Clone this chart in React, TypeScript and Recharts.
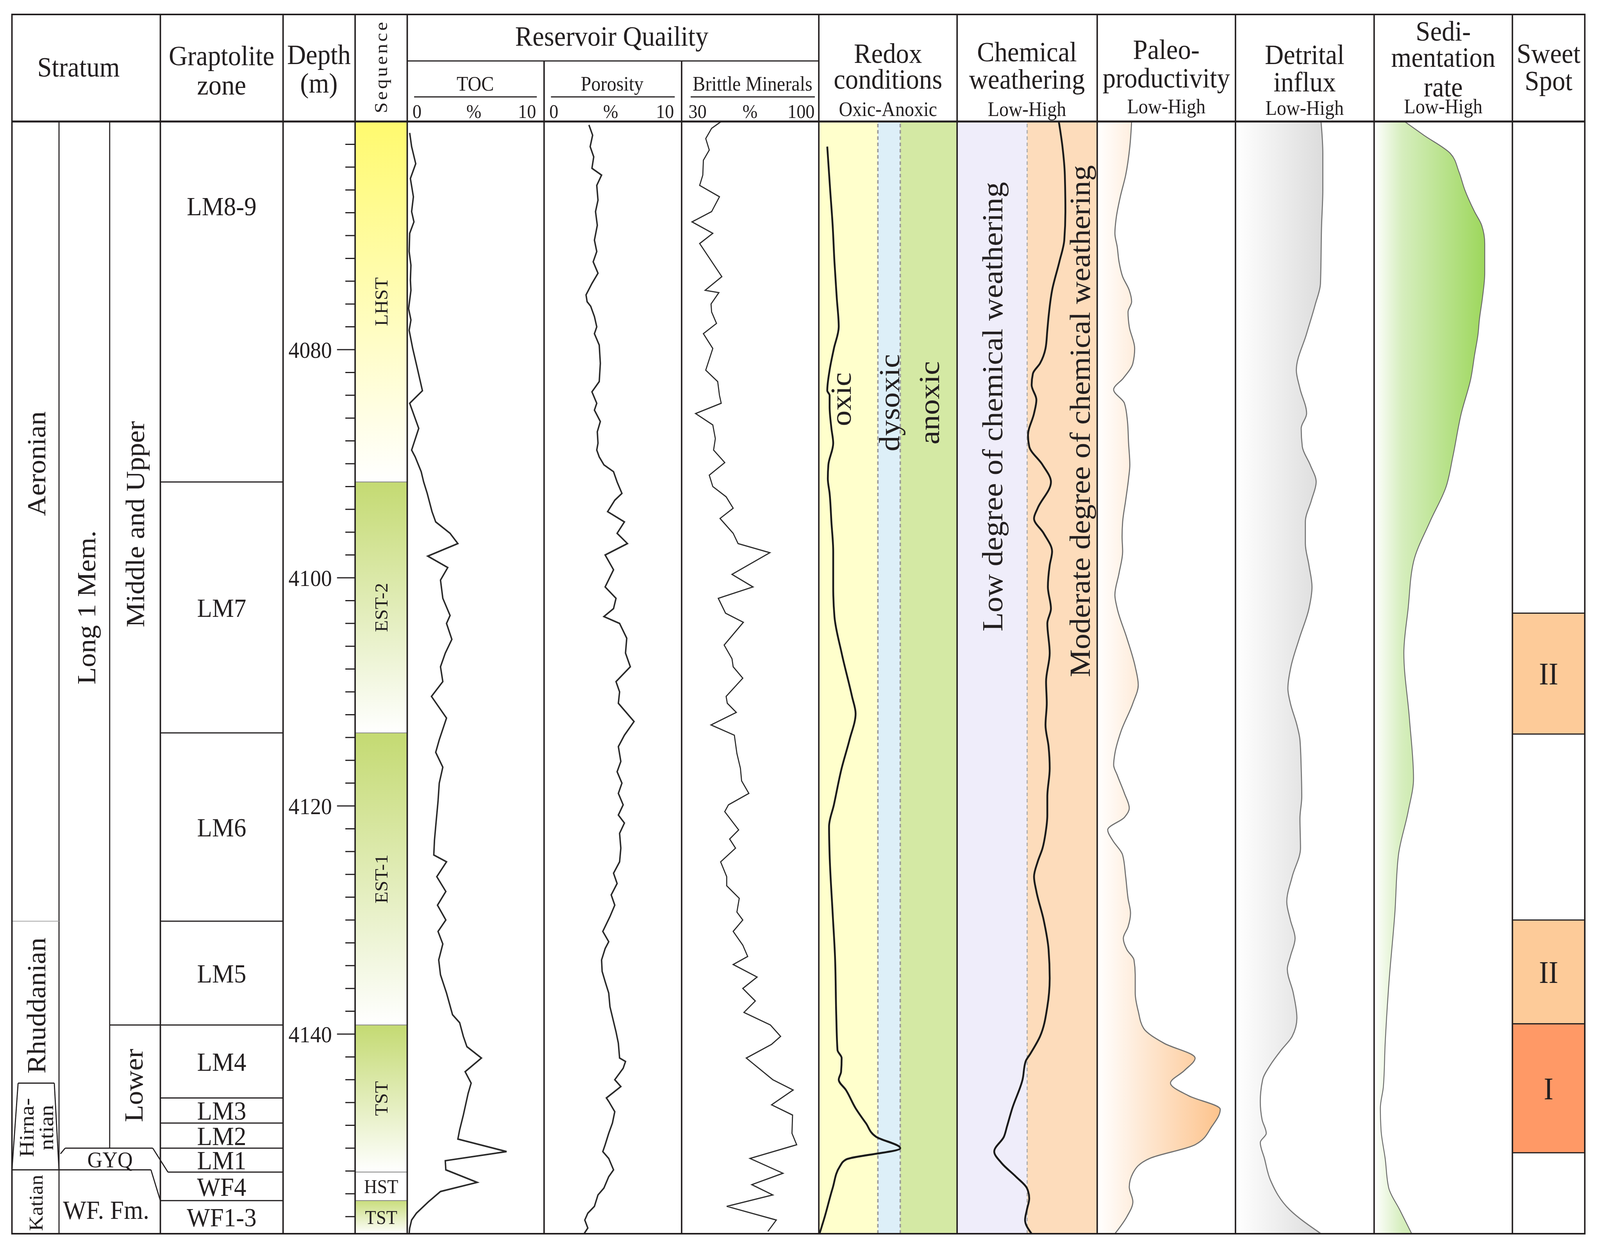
import React from 'react'
import { ComposedChart, Line, Area, XAxis, YAxis, ReferenceArea, ReferenceLine, ReferenceDot } from 'recharts'

const FONT = "'Liberation Serif', 'Times New Roman', serif"
const INK = '#231f20'

// depth window of the log (m)
const TOP = 4060
const BASE = 4157.5

const zones = ['LM8-9', 'LM7', 'LM6', 'LM5', 'LM4', 'LM3', 'LM2', 'LM1', 'WF4', 'WF1-3']
const zoneTops = [4060, 4091.6, 4113.6, 4130.1, 4139.2, 4145.6, 4147.8, 4150.0, 4152.1, 4154.6]

const sequences = ['LHST', 'EST-2', 'EST-1', 'TST', 'HST', 'TST']
const sequenceTops = [4060, 4091.6, 4113.6, 4139.2, 4152.1, 4154.6]
const sequenceColors = ['#fffa6e', '#c4da72', '#c4da72', '#c4da72', '#ffffff', '#c9dd7c']

// stratum boundaries (m)
const aeronianBase = 4130.1
const hirnantianTop = 4144.3
const katianTop = 4151.9
const lowerTop = 4139.2
const gyqTop = 4150.0

const sweetSpots = ['II', 'II', 'I']
const sweetTops = [4103.1, 4130.0, 4139.1]
const sweetBases = [4113.7, 4139.1, 4150.4]
const sweetColors = ['#fdcb99', '#fdcb99', '#ff9966']

const depthLabels = [4080, 4100, 4120, 4140]
const depthStep = 2

// redox / weathering class limits on the 0-10 track
const oxicLimit = 4.27
const dysoxicLimit = 5.89
const weatheringLimit = 5.0

// [depth m, value]
const tocData = [
  [4061.0, 0.18], [4062.2, 0.32], [4063.7, 0.62], [4065.0, 0.23], [4066.6, 0.45], [4067.9, 0.32], [4068.8, 0.49], [4069.8, 0.18],
  [4071.4, 0.14], [4072.6, 0.27], [4073.9, 0.23], [4074.8, 0.27], [4076.4, 0.10], [4077.4, 0.27], [4078.3, 0.14], [4079.9, 0.40],
  [4081.5, 0.71], [4083.6, 1.11], [4084.7, 0.18], [4086.9, 0.84], [4088.8, 0.32], [4089.4, 0.58], [4090.7, 1.02], [4091.6, 1.20],
  [4092.6, 1.46], [4094.2, 1.81], [4095.1, 2.08], [4096.1, 3.13], [4097.0, 3.70], [4098.1, 1.50], [4099.1, 2.96], [4100.2, 2.43],
  [4101.8, 2.60], [4103.3, 3.13], [4104.0, 2.87], [4105.4, 3.26], [4106.6, 2.78], [4107.8, 2.43], [4109.1, 2.60], [4110.4, 1.77],
  [4112.3, 2.87], [4114.2, 2.34], [4115.3, 2.08], [4116.6, 2.60], [4118.0, 2.34], [4119.6, 2.25], [4121.8, 2.08], [4123.0, 1.99],
  [4124.3, 1.94], [4124.9, 2.87], [4126.2, 2.16], [4127.5, 2.82], [4128.7, 2.21], [4130.0, 2.82], [4131.0, 2.25], [4132.1, 2.60],
  [4133.5, 2.30], [4134.8, 2.43], [4136.4, 2.87], [4138.3, 3.31], [4139.0, 3.83], [4140.2, 4.10], [4141.1, 4.36], [4142.1, 5.42],
  [4143.3, 4.23], [4144.3, 4.67], [4145.2, 4.45], [4147.1, 4.10], [4148.4, 3.83], [4149.2, 3.70], [4150.3, 7.26], [4151.1, 2.78],
  [4151.9, 2.82], [4153.0, 5.11], [4153.8, 2.43], [4154.7, 1.55], [4155.7, 0.67], [4156.3, 0.32], [4157.0, 0.18], [4157.5, 0.14],
]

const porosityData = [
  [4060.3, 3.26], [4061.2, 3.53], [4062.2, 3.35], [4063.1, 3.61], [4064.1, 3.48], [4064.7, 4.18], [4065.6, 3.83], [4066.9, 3.92],
  [4067.9, 3.74], [4069.1, 3.87], [4070.4, 3.66], [4071.4, 3.83], [4072.3, 3.57], [4073.3, 3.92], [4074.2, 3.48], [4075.2, 3.05],
  [4075.8, 3.13], [4076.2, 3.39], [4077.1, 3.66], [4078.0, 3.83], [4078.6, 3.66], [4079.6, 4.01], [4081.2, 4.09], [4082.8, 4.01],
  [4083.7, 3.48], [4084.7, 3.83], [4085.3, 3.66], [4086.3, 4.09], [4087.2, 3.87], [4088.2, 3.92], [4088.8, 3.83], [4089.4, 4.01],
  [4090.1, 4.35], [4090.7, 5.05], [4091.6, 5.31], [4092.6, 5.66], [4093.2, 5.14], [4094.2, 4.62], [4095.1, 5.84], [4096.1, 5.31],
  [4097.0, 6.06], [4098.0, 4.44], [4099.3, 5.05], [4100.8, 4.44], [4101.8, 5.23], [4102.7, 5.05], [4103.4, 4.35], [4104.0, 5.49],
  [4105.3, 6.01], [4106.6, 5.92], [4107.8, 6.27], [4109.1, 5.23], [4110.0, 5.49], [4111.0, 5.40], [4112.6, 6.54], [4113.8, 5.84],
  [4114.8, 5.40], [4116.1, 5.58], [4117.0, 5.31], [4118.0, 5.66], [4118.9, 5.40], [4119.9, 5.75], [4120.8, 5.40], [4121.5, 5.84],
  [4122.4, 5.49], [4123.7, 5.58], [4124.9, 5.49], [4125.9, 5.05], [4126.8, 5.31], [4127.8, 4.88], [4128.7, 5.14], [4129.7, 4.79],
  [4131.0, 4.27], [4131.9, 4.70], [4132.5, 4.44], [4133.5, 4.18], [4134.5, 4.22], [4135.4, 4.44], [4136.4, 4.70], [4137.6, 4.79],
  [4138.9, 5.05], [4139.8, 5.23], [4140.8, 5.40], [4142.1, 5.49], [4142.4, 5.92], [4143.0, 5.75], [4144.0, 5.14], [4144.6, 5.58],
  [4145.6, 4.53], [4145.9, 4.70], [4146.8, 5.14], [4147.8, 4.97], [4148.7, 4.70], [4149.7, 4.44], [4150.3, 4.27], [4150.9, 4.70],
  [4151.9, 5.05], [4152.5, 4.70], [4153.5, 4.35], [4154.1, 3.92], [4155.1, 3.66], [4155.7, 3.18], [4156.3, 2.96], [4157.0, 3.18],
  [4157.5, 2.91],
]

const brittleData = [
  [4060.0, 50.2], [4060.6, 45.3], [4061.5, 42.3], [4062.5, 44.1], [4063.4, 41.1], [4064.7, 40.8], [4065.6, 39.2], [4066.6, 49.3],
  [4067.9, 45.3], [4068.8, 35.3], [4069.8, 45.9], [4070.7, 39.2], [4073.6, 50.5], [4074.8, 42.0], [4075.0, 49.0], [4076.0, 45.0],
  [4076.7, 45.3], [4077.7, 47.8], [4078.6, 41.1], [4079.9, 45.9], [4081.8, 42.3], [4082.8, 48.4], [4084.0, 49.3], [4084.7, 50.2],
  [4085.6, 37.1], [4086.6, 45.9], [4087.8, 47.2], [4088.8, 46.3], [4089.9, 52.0], [4091.0, 44.1], [4092.0, 45.9], [4092.9, 52.7],
  [4093.9, 56.3], [4094.8, 49.6], [4096.1, 56.3], [4097.0, 58.8], [4097.8, 75.0], [4099.7, 55.7], [4100.8, 66.4], [4101.8, 48.7],
  [4103.1, 52.4], [4103.9, 61.5], [4105.9, 51.7], [4107.1, 55.7], [4107.8, 56.3], [4108.8, 61.2], [4110.4, 52.7], [4111.0, 53.3],
  [4111.8, 57.9], [4112.9, 45.0], [4113.8, 56.9], [4115.4, 58.2], [4116.7, 60.0], [4117.8, 60.6], [4118.9, 64.3], [4119.9, 53.9],
  [4120.5, 52.0], [4122.1, 59.1], [4122.9, 54.5], [4123.7, 57.5], [4124.9, 49.9], [4126.2, 53.0], [4127.0, 53.0], [4128.1, 59.4],
  [4129.3, 58.2], [4130.0, 61.2], [4131.0, 56.3], [4132.2, 61.2], [4133.2, 63.7], [4133.9, 56.3], [4135.0, 68.5], [4136.0, 61.2],
  [4137.1, 67.6], [4138.1, 61.8], [4139.2, 75.3], [4140.2, 80.5], [4140.9, 75.9], [4142.1, 63.0], [4144.0, 76.5], [4144.9, 86.9],
  [4146.2, 75.9], [4147.1, 86.6], [4148.7, 86.3], [4149.7, 88.7], [4150.9, 64.9], [4152.2, 81.7], [4153.2, 65.8], [4154.1, 76.5],
  [4155.1, 53.0], [4156.3, 78.3], [4157.3, 74.0],
]

const redoxData = [
  [4062.2, 0.61], [4066.0, 0.82], [4069.1, 1.00], [4072.3, 1.13], [4075.5, 1.30], [4078.0, 1.44], [4079.9, 1.09], [4081.8, 0.78],
  [4083.6, 0.61], [4084.0, 0.78], [4085.0, 0.78], [4086.9, 0.91], [4088.2, 1.04], [4090.1, 0.69], [4091.3, 0.65], [4092.6, 0.78],
  [4095.1, 0.91], [4097.7, 1.04], [4100.8, 1.04], [4103.4, 1.13], [4106.6, 1.65], [4110.4, 2.40], [4111.9, 2.66], [4114.2, 2.22],
  [4116.7, 1.65], [4119.9, 1.09], [4121.8, 0.74], [4124.3, 0.78], [4129.4, 1.00], [4133.2, 1.17], [4138.3, 1.26], [4141.4, 1.35],
  [4142.1, 1.65], [4143.3, 1.61], [4144.0, 1.44], [4144.9, 1.96], [4146.5, 2.66], [4147.8, 3.40], [4149.0, 4.14], [4150.0, 5.89],
  [4151.0, 1.96], [4151.6, 1.52], [4153.5, 1.00], [4156.0, 0.43], [4157.5, 0.05],
]

const weatheringData = [
  [4060.0, 7.26], [4062.2, 7.52], [4064.7, 7.69], [4067.9, 7.73], [4070.4, 7.65], [4072.3, 7.30], [4074.8, 6.78], [4077.1, 6.53],
  [4078.3, 6.44], [4079.9, 6.31], [4081.2, 5.92], [4082.1, 5.41], [4083.1, 5.32], [4084.4, 5.66], [4085.6, 5.49], [4087.5, 5.06],
  [4088.5, 5.15], [4090.1, 6.10], [4091.6, 6.70], [4093.9, 5.75], [4094.8, 5.49], [4096.1, 6.18], [4097.7, 6.78], [4098.9, 6.61],
  [4100.8, 6.48], [4102.7, 6.70], [4104.0, 6.44], [4106.6, 6.61], [4109.1, 6.35], [4111.0, 6.40], [4112.9, 6.31], [4114.8, 6.53],
  [4116.7, 6.61], [4119.2, 6.44], [4120.8, 6.44], [4122.4, 6.31], [4123.7, 6.10], [4124.9, 5.75], [4126.2, 5.49], [4127.5, 5.66],
  [4130.0, 6.18], [4132.6, 6.53], [4135.1, 6.61], [4137.6, 6.44], [4140.2, 5.92], [4141.7, 5.24], [4142.4, 4.89], [4144.0, 4.67],
  [4146.5, 3.94], [4148.1, 3.56], [4149.0, 3.34], [4150.3, 2.65], [4151.3, 3.17], [4152.5, 4.20], [4153.5, 4.98], [4154.4, 5.15],
  [4155.4, 4.98], [4156.3, 4.85], [4157.5, 5.32],
]

const productivityData = [
  [4060.0, 2.49], [4062.2, 2.36], [4064.7, 2.06], [4066.6, 1.67], [4068.5, 1.37], [4069.8, 1.28], [4071.0, 1.45], [4072.3, 1.58],
  [4073.6, 1.84], [4074.8, 2.32], [4075.8, 2.49], [4076.7, 2.23], [4078.0, 2.32], [4079.9, 2.71], [4081.2, 2.58], [4082.5, 1.89],
  [4083.5, 1.19], [4084.7, 1.97], [4086.3, 2.19], [4088.2, 2.27], [4090.1, 2.36], [4091.3, 2.27], [4093.2, 2.06], [4095.1, 1.84],
  [4096.4, 1.80], [4097.7, 1.84], [4099.6, 1.58], [4101.5, 1.28], [4102.7, 1.45], [4105.3, 2.15], [4107.8, 2.75], [4109.4, 2.97],
  [4111.0, 2.58], [4113.5, 1.71], [4115.4, 1.28], [4116.4, 1.19], [4117.3, 1.45], [4118.9, 1.97], [4120.2, 2.32], [4121.0, 1.97],
  [4122.1, 0.76], [4123.0, 1.11], [4124.3, 1.84], [4126.2, 2.06], [4128.1, 2.23], [4129.4, 2.41], [4130.6, 2.23], [4131.6, 1.89],
  [4132.6, 2.15], [4133.5, 2.66], [4134.8, 2.75], [4136.4, 2.75], [4138.0, 2.97], [4139.5, 3.36], [4140.8, 4.83], [4142.1, 7.08],
  [4143.2, 6.30], [4144.3, 5.30], [4145.4, 6.60], [4146.6, 8.90], [4148.1, 8.29], [4149.7, 7.08], [4150.9, 3.79], [4152.2, 2.58],
  [4153.4, 2.32], [4154.7, 2.58], [4156.0, 2.15], [4157.5, 1.28],
]

const detritalData = [
  [4060.0, 6.17], [4062.8, 6.30], [4066.0, 6.30], [4069.1, 6.21], [4074.2, 6.13], [4076.1, 5.74], [4078.6, 5.13], [4081.8, 4.39],
  [4083.4, 4.65], [4085.6, 5.13], [4086.9, 4.74], [4088.5, 4.82], [4090.1, 5.39], [4091.6, 5.82], [4093.2, 5.48], [4095.1, 5.04],
  [4097.0, 5.04], [4098.9, 5.30], [4100.8, 5.52], [4102.7, 5.30], [4105.3, 4.61], [4107.8, 4.00], [4109.7, 3.78], [4111.0, 3.96],
  [4112.9, 4.43], [4114.2, 4.65], [4116.7, 4.74], [4119.2, 4.78], [4121.1, 4.65], [4123.7, 4.69], [4126.2, 4.09], [4128.4, 3.70],
  [4130.0, 3.96], [4131.6, 4.30], [4133.2, 3.96], [4134.3, 3.74], [4136.4, 4.17], [4138.6, 4.43], [4140.2, 4.09], [4141.4, 3.30],
  [4142.7, 2.52], [4144.0, 1.96], [4145.9, 1.79], [4147.5, 1.92], [4148.7, 2.22], [4149.5, 1.79], [4150.9, 2.09], [4152.8, 2.52],
  [4155.4, 3.91], [4157.5, 6.17],
]

const sedimentationData = [
  [4060.0, 2.20], [4061.2, 3.59], [4062.8, 5.51], [4064.4, 6.13], [4066.0, 6.56], [4067.9, 7.26], [4069.1, 7.78], [4070.7, 8.00],
  [4073.3, 8.00], [4075.5, 7.83], [4077.4, 7.61], [4078.6, 7.52], [4080.5, 7.26], [4082.5, 7.00], [4085.6, 6.30], [4089.4, 5.69],
  [4092.0, 5.21], [4095.1, 4.03], [4098.6, 2.85], [4102.7, 2.46], [4106.6, 2.15], [4112.3, 2.55], [4117.6, 2.85], [4120.5, 2.46],
  [4124.3, 1.76], [4129.4, 1.50], [4135.7, 1.06], [4140.8, 0.80], [4144.6, 0.67], [4146.5, 0.45], [4148.4, 0.50], [4150.9, 0.80],
  [4153.5, 1.06], [4155.4, 1.85], [4157.5, 2.72],
]

const rows = (pairs: number[][]) => pairs.map(([d, v]) => ({ d, v }))
const frameRows = [{ d: TOP, v: 0 }, { d: BASE, v: 0 }]
const depthTicks: number[] = []
for (let t = TOP + depthStep; t < BASE; t += depthStep) depthTicks.push(t)

// page layout: drawn in 4420 x 3192 figure units, squeezed horizontally into the 4096-px wide viewport
const W = 4420
const H = 3192
const SX = 4096 / 4420
const HEAD_TOP = 37
const HEAD_MID = 156
const BODY_TOP = 311
const BODY_BOTTOM = 3158
const BODY_H = BODY_BOTTOM - BODY_TOP
const X = {
  a: 33, b: 163, c: 303, grap: 443, depth: 782, seq: 981, toc: 1125, por: 1503, brit: 1883,
  redox: 2262, chem: 2644, paleo: 3031, detr: 3413, sed: 3796, sweet: 4178, end: 4378,
}
const DEPTH_W = X.seq - X.depth

function label(lines: string | string[], size: number, angle = 0, lh = size) {
  const list = Array.isArray(lines) ? lines : [lines]
  return {
    content: (p: any) => {
      const vb = p.viewBox || { x: 0, y: 0, width: 0, height: 0 }
      const cx = vb.x + (vb.width || 0) / 2
      const cy = vb.y + (vb.height || 0) / 2
      return (
        <text transform={angle ? `rotate(${angle} ${cx} ${cy})` : undefined} textAnchor="middle" fontFamily={FONT} fontSize={size} fill={INK}>
          {list.map((t, i) => (
            <tspan key={i} x={cx} y={cy + (i - (list.length - 1) / 2) * lh} dy="0.35em">{t}</tspan>
          ))}
        </text>
      )
    },
  }
}

function Track({ left, width, domain, data = frameRows, children }: any) {
  return (
    <div style={{ position: 'absolute', left, top: BODY_TOP, width, height: BODY_H }}>
      <ComposedChart width={width} height={BODY_H} data={data} layout="vertical" margin={{ top: 0, right: 0, bottom: 0, left: 0 }}>
        <XAxis type="number" dataKey="v" domain={domain} hide height={0} allowDataOverflow />
        <YAxis type="number" dataKey="d" domain={[TOP, BASE]} hide width={0} allowDataOverflow />
        {children}
      </ComposedChart>
    </div>
  )
}

function DepthTick(props: any) {
  const { y, payload } = props
  const major = depthLabels.includes(payload.value)
  return (
    <g>
      <line x1={DEPTH_W - (major ? 50 : 27)} x2={DEPTH_W} y1={y} y2={y} stroke={INK} strokeWidth={3} />
      {major && (
        <text x={DEPTH_W - 64} y={y} dy="0.35em" textAnchor="end" fontFamily={FONT} fontSize={60} fill={INK}>
          {payload.value}
        </text>
      )}
    </g>
  )
}

function T({ x, y, size = 72, rotate = 0, children, style }: any) {
  return (
    <div
      style={{
        position: 'absolute', left: x, top: y, transform: `translate(-50%, -50%) rotate(${rotate}deg)`,
        fontSize: size, lineHeight: 1, whiteSpace: 'nowrap', color: INK, ...style,
      }}
    >
      {children}
    </div>
  )
}

function Frame() {
  const full = [X.a, X.grap, X.depth, X.seq, X.toc, X.redox, X.chem, X.paleo, X.detr, X.sed, X.sweet, X.end]
  const underlines = [[1144, 1483], [1522, 1864], [1908, 2251]]
  return (
    <svg width={W} height={H} style={{ position: 'absolute', left: 0, top: 0, pointerEvents: 'none' }}>
      <g stroke={INK}>
        <line x1={X.a} x2={X.end} y1={HEAD_TOP} y2={HEAD_TOP} strokeWidth={4} />
        <line x1={X.a} x2={X.end} y1={BODY_TOP} y2={BODY_TOP} strokeWidth={5} />
        <line x1={X.a} x2={X.end} y1={BODY_BOTTOM} y2={BODY_BOTTOM} strokeWidth={4} />
        <line x1={X.toc} x2={X.redox} y1={HEAD_MID} y2={HEAD_MID} strokeWidth={3} />
        {full.map((x) => <line key={x} x1={x} x2={x} y1={HEAD_TOP - 2} y2={BODY_BOTTOM + 2} strokeWidth={4} />)}
        {[X.por, X.brit].map((x) => <line key={x} x1={x} x2={x} y1={HEAD_MID} y2={BODY_BOTTOM} strokeWidth={4} />)}
        {underlines.map(([a, b]) => <line key={a} x1={a} x2={b} y1={248} y2={248} strokeWidth={3} />)}
      </g>
    </svg>
  )
}

const line = { stroke: INK, strokeWidth: 3 }

export default function App() {
  return (
    <div style={{ width: Math.floor(W * SX), height: H, overflow: 'hidden', background: '#fff' }}>
      <style>{'html,body{margin:0;padding:0;background:#fff;overflow:hidden}'}</style>
      <div
        style={{
          position: 'relative', width: W, height: H, background: '#fff', fontFamily: FONT, color: INK,
          transform: `scale(${SX}, 1)`, transformOrigin: '0 0',
        }}
      >
        {/* stratum + graptolite zones */}
        <Track left={X.a} width={X.depth - X.a} domain={[X.a, X.depth]}>
          <ReferenceLine x={X.b} {...line} />
          <ReferenceLine segment={[{ x: X.c, y: TOP }, { x: X.c, y: gyqTop }]} {...line} />
          <ReferenceLine segment={[{ x: X.grap, y: TOP }, { x: X.grap, y: gyqTop }]} {...line} />
          <ReferenceLine segment={[{ x: X.grap, y: zoneTops[9] }, { x: X.grap, y: BASE }]} {...line} />
          <ReferenceLine segment={[{ x: X.a, y: aeronianBase }, { x: X.b, y: aeronianBase }]} stroke="#a8a8a8" strokeWidth={2} />
          <ReferenceLine segment={[{ x: 50, y: hirnantianTop }, { x: 150, y: hirnantianTop }]} {...line} />
          <ReferenceLine segment={[{ x: 50, y: hirnantianTop }, { x: X.a, y: katianTop }]} {...line} />
          <ReferenceLine segment={[{ x: 150, y: hirnantianTop }, { x: X.b, y: katianTop }]} {...line} />
          <ReferenceLine segment={[{ x: X.a, y: katianTop }, { x: 417, y: katianTop }]} {...line} />
          <ReferenceLine segment={[{ x: 417, y: katianTop }, { x: X.grap, y: zoneTops[9] }]} {...line} />
          <ReferenceLine segment={[{ x: 167, y: gyqTop + 0.5 }, { x: 180, y: gyqTop }]} {...line} />
          <ReferenceLine segment={[{ x: 180, y: gyqTop }, { x: 422, y: gyqTop }]} {...line} />
          <ReferenceLine segment={[{ x: 422, y: gyqTop }, { x: 464, y: zoneTops[8] }]} {...line} />
          <ReferenceLine segment={[{ x: X.c, y: lowerTop }, { x: X.grap, y: lowerTop }]} {...line} />
          {zoneTops.slice(1).map((t, i) => (
            <ReferenceLine key={`z${i}`} segment={[{ x: i + 1 === 8 ? 464 : X.grap, y: t }, { x: X.depth, y: t }]} {...line} />
          ))}
          {zones.map((z, i) => {
            const top = zoneTops[i]
            const bot = i + 1 < zoneTops.length ? zoneTops[i + 1] : BASE
            const yd = i === 0 ? top + 7.4 : (top + bot) / 2
            return <ReferenceDot key={z} x={(X.grap + X.depth) / 2} y={yd} r={0} fill="none" stroke="none" label={label(z, 68)} />
          })}
          <ReferenceDot x={100} y={4090} r={0} fill="none" stroke="none" label={label('Aeronian', 72, -90)} />
          <ReferenceDot x={100} y={4137.5} r={0} fill="none" stroke="none" label={label('Rhuddanian', 72, -90)} />
          <ReferenceDot x={100} y={4148.2} r={0} fill="none" stroke="none" label={label(['Hirna-', 'ntian'], 58, -90, 54)} />
          <ReferenceDot x={99} y={4154.8} r={0} fill="none" stroke="none" label={label('Katian', 54, -90)} />
          <ReferenceDot x={238} y={4102.6} r={0} fill="none" stroke="none" label={label('Long 1 Mem.', 72, -90)} />
          <ReferenceDot x={373} y={4095.3} r={0} fill="none" stroke="none" label={label('Middle and Upper', 72, -90)} />
          <ReferenceDot x={369} y={4144.5} r={0} fill="none" stroke="none" label={label('Lower', 72, -90)} />
          <ReferenceDot x={304} y={4151.0} r={0} fill="none" stroke="none" label={label('GYQ', 58)} />
          <ReferenceDot x={293} y={4155.4} r={0} fill="none" stroke="none" label={label('WF. Fm.', 68)} />
        </Track>

        {/* depth scale */}
        <div style={{ position: 'absolute', left: X.depth, top: BODY_TOP }}>
          <ComposedChart width={DEPTH_W} height={BODY_H} data={frameRows} layout="vertical" margin={{ top: 0, right: 0, bottom: 0, left: 0 }}>
            <XAxis type="number" dataKey="v" domain={[0, 1]} hide height={0} />
            <YAxis
              type="number" dataKey="d" domain={[TOP, BASE]} ticks={depthTicks} interval={0} width={DEPTH_W - 4}
              axisLine={false} tickLine={false} tick={(p: any) => <DepthTick {...p} />} allowDataOverflow
            />
          </ComposedChart>
        </div>

        {/* sequence */}
        <Track left={X.seq} width={X.toc - X.seq} domain={[0, 1]}>
          <defs>
            {sequenceColors.map((c, i) => (
              <linearGradient key={i} id={`seq${i}`} x1="0" y1="0" x2="0" y2="1">
                <stop offset="0%" stopColor={c} />
                <stop offset="100%" stopColor="#ffffff" stopOpacity={1} />
              </linearGradient>
            ))}
          </defs>
          {sequences.map((s, i) => (
            <ReferenceArea
              key={i} x1={0} x2={1} y1={sequenceTops[i]} y2={i + 1 < sequenceTops.length ? sequenceTops[i + 1] : BASE}
              fill={`url(#seq${i})`} fillOpacity={1} stroke="#8c8c8c" strokeWidth={2}
              label={label(s, 50, i < 4 ? -90 : 0)}
            />
          ))}
        </Track>

        {/* TOC */}
        <Track left={X.toc} width={X.por - X.toc} domain={[0, 10]} data={rows(tocData)}>
          <Line dataKey="v" type="linear" stroke="#2a2a2a" strokeWidth={4} dot={false} activeDot={false} isAnimationActive={false} />
        </Track>

        {/* porosity */}
        <Track left={X.por} width={X.brit - X.por} domain={[0, 10]} data={rows(porosityData)}>
          <Line dataKey="v" type="linear" stroke="#2a2a2a" strokeWidth={4} dot={false} activeDot={false} isAnimationActive={false} />
        </Track>

        {/* brittle minerals */}
        <Track left={X.brit} width={X.redox - X.brit} domain={[30, 100]} data={rows(brittleData)}>
          <Line dataKey="v" type="linear" stroke="#2a2a2a" strokeWidth={3} dot={false} activeDot={false} isAnimationActive={false} />
        </Track>

        {/* redox */}
        <Track left={X.redox} width={X.chem - X.redox} domain={[0, 10]} data={rows(redoxData)}>
          <ReferenceArea x1={0} x2={oxicLimit} y1={TOP} y2={BASE} fill="#ffffcc" fillOpacity={1} />
          <ReferenceArea x1={oxicLimit} x2={dysoxicLimit} y1={TOP} y2={BASE} fill="#ddeff8" fillOpacity={1} />
          <ReferenceArea x1={dysoxicLimit} x2={10} y1={TOP} y2={BASE} fill="#d4e9a4" fillOpacity={1} />
          <ReferenceLine x={oxicLimit} stroke="#9b9b9b" strokeWidth={4} strokeDasharray="9 7" />
          <ReferenceLine x={dysoxicLimit} stroke="#9b9b9b" strokeWidth={4} strokeDasharray="9 7" />
          <Line dataKey="v" type="monotone" stroke="#1a1a1a" strokeWidth={5} dot={false} activeDot={false} isAnimationActive={false} />
        </Track>

        {/* chemical weathering */}
        <Track left={X.chem} width={X.paleo - X.chem} domain={[0, 10]} data={rows(weatheringData)}>
          <ReferenceArea x1={0} x2={weatheringLimit} y1={TOP} y2={BASE} fill="#efedfa" fillOpacity={1} />
          <ReferenceArea x1={weatheringLimit} x2={10} y1={TOP} y2={BASE} fill="#fddcbb" fillOpacity={1} />
          <ReferenceLine x={weatheringLimit} stroke="#ababab" strokeWidth={3} strokeDasharray="9 7" />
          <Line dataKey="v" type="monotone" stroke="#1a1a1a" strokeWidth={5} dot={false} activeDot={false} isAnimationActive={false} />
        </Track>

        {/* paleo-productivity */}
        <Track left={X.paleo} width={X.detr - X.paleo} domain={[0, 10]} data={rows(productivityData)}>
          <defs>
            <linearGradient id="paleoFill" x1="0" y1="0" x2="1" y2="0">
              <stop offset="0%" stopColor="#ffffff" />
              <stop offset="100%" stopColor="#fdc38c" />
            </linearGradient>
          </defs>
          <Area dataKey="v" type="monotone" stroke="#707070" strokeWidth={3} fill="url(#paleoFill)" fillOpacity={1} dot={false} activeDot={false} isAnimationActive={false} />
        </Track>

        {/* detrital influx */}
        <Track left={X.detr} width={X.sed - X.detr} domain={[0, 10]} data={rows(detritalData)}>
          <defs>
            <linearGradient id="detrFill" x1="0" y1="0" x2="1" y2="0">
              <stop offset="0%" stopColor="#ffffff" />
              <stop offset="100%" stopColor="#dcdcdc" />
            </linearGradient>
          </defs>
          <Area dataKey="v" type="monotone" stroke="#777777" strokeWidth={3} fill="url(#detrFill)" fillOpacity={1} dot={false} activeDot={false} isAnimationActive={false} />
        </Track>

        {/* sedimentation rate */}
        <Track left={X.sed} width={X.sweet - X.sed} domain={[0, 10]} data={rows(sedimentationData)}>
          <defs>
            <linearGradient id="sedFill" x1="0" y1="0" x2="1" y2="0">
              <stop offset="0%" stopColor="#ffffff" />
              <stop offset="25%" stopColor="#d6eebe" />
              <stop offset="100%" stopColor="#9dd75c" />
            </linearGradient>
          </defs>
          <Area dataKey="v" type="monotone" stroke="#6a6a6a" strokeWidth={2.5} fill="url(#sedFill)" fillOpacity={1} dot={false} activeDot={false} isAnimationActive={false} />
        </Track>

        {/* sweet spot */}
        <Track left={X.sweet} width={X.end - X.sweet} domain={[0, 1]}>
          {sweetSpots.map((s, i) => (
            <ReferenceArea
              key={i} x1={0} x2={1} y1={sweetTops[i]} y2={sweetBases[i]}
              fill={sweetColors[i]} fillOpacity={1} stroke={INK} strokeWidth={3} label={label(s, 80)}
            />
          ))}
        </Track>

        <Frame />

        {/* body annotations */}
        <T x={2323} y={1022} size={80} rotate={-90}>oxic</T>
        <T x={2457} y={1031} size={80} rotate={-90}>dysoxic</T>
        <T x={2567} y={1031} size={80} rotate={-90}>anoxic</T>
        <T x={2742} y={1041} size={80} rotate={-90}>Low degree of chemical weathering</T>
        <T x={2984} y={1078} size={80} rotate={-90}>Moderate degree of chemical weathering</T>

        {/* header */}
        <T x={217} y={172}>Stratum</T>
        <T x={612} y={143}>Graptolite</T>
        <T x={612} y={218}>zone</T>
        <T x={881} y={140}>Depth</T>
        <T x={881} y={213}>(m)</T>
        <T x={1052} y={170} size={50} rotate={-90} style={{ letterSpacing: 6 }}>Sequence</T>
        <T x={1690} y={93}>Reservoir Quaility</T>
        <T x={1313} y={215} size={52}>TOC</T>
        <T x={1691} y={215} size={52}>Porosity</T>
        <T x={2079} y={215} size={52}>Brittle Minerals</T>
        <T x={1152} y={285} size={50}>0</T>
        <T x={1309} y={285} size={50}>%</T>
        <T x={1456} y={285} size={50}>10</T>
        <T x={1530} y={285} size={50}>0</T>
        <T x={1687} y={285} size={50}>%</T>
        <T x={1837} y={285} size={50}>10</T>
        <T x={1927} y={285} size={50}>30</T>
        <T x={2072} y={285} size={50}>%</T>
        <T x={2213} y={285} size={50}>100</T>

        <T x={2453} y={137}>Redox</T>
        <T x={2453} y={203}>conditions</T>
        <T x={2453} y={280} size={52}>Oxic-Anoxic</T>
        <T x={2837} y={133}>Chemical</T>
        <T x={2837} y={203}>weathering</T>
        <T x={2837} y={280} size={52}>Low-High</T>
        <T x={3222} y={127}>Paleo-</T>
        <T x={3222} y={200}>productivity</T>
        <T x={3222} y={273} size={52}>Low-High</T>
        <T x={3604} y={140}>Detrital</T>
        <T x={3604} y={210}>influx</T>
        <T x={3604} y={277} size={52}>Low-High</T>
        <T x={3987} y={80}>Sedi-</T>
        <T x={3987} y={147}>mentation</T>
        <T x={3987} y={223}>rate</T>
        <T x={3987} y={273} size={52}>Low-High</T>
        <T x={4278} y={137}>Sweet</T>
        <T x={4278} y={207}>Spot</T>
      </div>
    </div>
  )
}
